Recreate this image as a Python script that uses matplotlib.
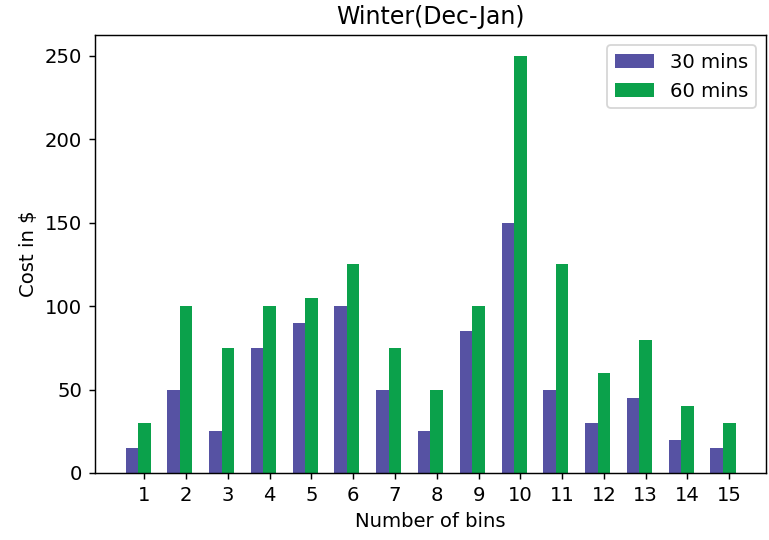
import numpy as np
import matplotlib
matplotlib.use("Agg")
import matplotlib.pyplot as plt

# bin counts and cost for each time resolution
bins = np.arange(1, 16)
cost_30 = [15, 50, 25, 75, 90, 100, 50, 25, 85, 150, 50, 30, 45, 20, 15]
cost_60 = [30, 100, 75, 100, 105, 125, 75, 50, 100, 250, 125, 60, 80, 40, 30]

plt.rcParams["font.size"] = 10.9

w = 0.3
fig = plt.figure(figsize=(769 / 130, 540 / 130), dpi=130)
ax = fig.add_axes([95 / 769, 67 / 540, 671 / 769, 438 / 540])

ax.bar(bins - w, cost_30, width=w, color="#5652a3", label="30 mins")
ax.bar(bins, cost_60, width=w, color="#0ba14b", label="60 mins")

ax.set_xticks(bins)
ax.set_title("Winter(Dec-Jan)")
ax.set_xlabel("Number of bins")
ax.set_ylabel("Cost in $")
ax.legend(loc="upper right")

fig.savefig("out.png", dpi=130)
